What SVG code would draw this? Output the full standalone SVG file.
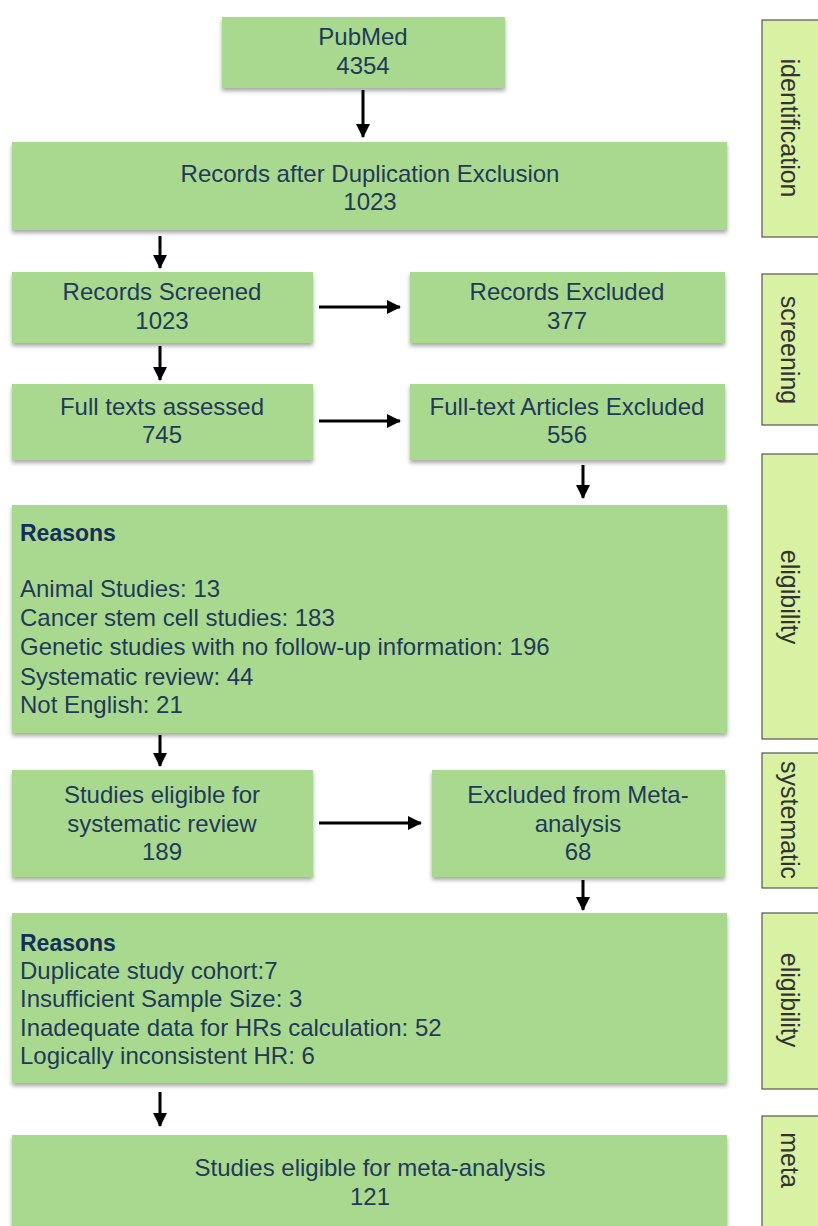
<svg xmlns="http://www.w3.org/2000/svg" width="818" height="1226" viewBox="0 0 818 1226">
<defs>
<filter id="sh" x="-5%" y="-10%" width="110%" height="130%">
<feDropShadow dx="0" dy="3" stdDeviation="2" flood-color="#000" flood-opacity="0.35"/>
</filter>
<marker id="ah" markerWidth="14" markerHeight="14" viewBox="0 0 14 14" refX="13" refY="7" orient="auto" markerUnits="userSpaceOnUse">
<path d="M0,0 L14,7 L0,14 Z" fill="#000"/>
</marker>
<style>
.box{fill:#a9d98f;filter:url(#sh);}
.side{fill:#d9f1a3;stroke:#555;stroke-width:1.2;}
.t{font-family:"Liberation Sans",Arial,sans-serif;font-size:24px;fill:#22395a;text-anchor:middle;}
.l{font-family:"Liberation Sans",Arial,sans-serif;font-size:24px;fill:#22395a;}
.b{font-family:"Liberation Sans",Arial,sans-serif;font-size:23px;font-weight:bold;fill:#14305a;}
.s{font-family:"Liberation Sans",Arial,sans-serif;font-size:25px;fill:#333;text-anchor:middle;dominant-baseline:central;}
.c{stroke:#000;stroke-width:3;fill:none;marker-end:url(#ah);}
</style>
</defs>
<rect width="818" height="1226" fill="#fff"/>

<g id="connectors">
<line class="c" x1="363" y1="90" x2="363" y2="137"/>
<line class="c" x1="160" y1="236" x2="160" y2="268"/>
<line class="c" x1="319" y1="307" x2="400" y2="307"/>
<line class="c" x1="160" y1="346" x2="160" y2="380"/>
<line class="c" x1="319" y1="421" x2="400" y2="421"/>
<line class="c" x1="583" y1="465" x2="583" y2="498"/>
<line class="c" x1="160" y1="735" x2="160" y2="766"/>
<line class="c" x1="319" y1="823" x2="421" y2="823"/>
<line class="c" x1="583" y1="880" x2="583" y2="910"/>
<line class="c" x1="160" y1="1092" x2="160" y2="1126"/>
</g>

<g id="n-pubmed">
<rect class="box" x="222" y="17" width="283" height="71"/>
<text class="t" x="363" y="45">PubMed</text>
<text class="t" x="363" y="74">4354</text>
</g>
<g id="n-dedup">
<rect class="box" x="12" y="142" width="715" height="88"/>
<text class="t" x="370" y="182">Records after Duplication Exclusion</text>
<text class="t" x="370" y="210">1023</text>
</g>
<g id="n-screened">
<rect class="box" x="12" y="272" width="301" height="71"/>
<text class="t" x="162" y="300">Records Screened</text>
<text class="t" x="162" y="329">1023</text>
</g>
<g id="n-excluded">
<rect class="box" x="410" y="272" width="315" height="71"/>
<text class="t" x="567" y="300">Records Excluded</text>
<text class="t" x="567" y="329">377</text>
</g>
<g id="n-fulltext">
<rect class="box" x="12" y="384" width="301" height="76"/>
<text class="t" x="162" y="415">Full texts assessed</text>
<text class="t" x="162" y="443">745</text>
</g>
<g id="n-ftexcluded">
<rect class="box" x="410" y="384" width="315" height="76"/>
<text class="t" x="567" y="415">Full-text Articles Excluded</text>
<text class="t" x="567" y="443">556</text>
</g>
<g id="n-reasons1">
<rect class="box" x="12" y="505" width="715" height="228"/>
<text class="b" x="20" y="541">Reasons</text>
<text class="l" x="20" y="597">Animal Studies: 13</text>
<text class="l" x="20" y="626">Cancer stem cell studies: 183</text>
<text class="l" x="20" y="655">Genetic studies with no follow-up information: 196</text>
<text class="l" x="20" y="685">Systematic review: 44</text>
<text class="l" x="20" y="713">Not English: 21</text>
</g>
<g id="n-sysreview">
<rect class="box" x="12" y="770" width="301" height="107"/>
<text class="t" x="162" y="803">Studies eligible for</text>
<text class="t" x="162" y="832">systematic review</text>
<text class="t" x="162" y="860">189</text>
</g>
<g id="n-exmeta">
<rect class="box" x="432" y="770" width="293" height="107"/>
<text class="t" x="578" y="803">Excluded from Meta-</text>
<text class="t" x="578" y="832">analysis</text>
<text class="t" x="578" y="860">68</text>
</g>
<g id="n-reasons2">
<rect class="box" x="12" y="913" width="715" height="170"/>
<text class="b" x="20" y="951">Reasons</text>
<text class="l" x="20" y="979">Duplicate study cohort:7</text>
<text class="l" x="20" y="1007">Insufficient Sample Size: 3</text>
<text class="l" x="20" y="1036">Inadequate data for HRs calculation: 52</text>
<text class="l" x="20" y="1064">Logically inconsistent HR: 6</text>
</g>
<g id="n-meta">
<rect class="box" x="12" y="1135" width="715" height="100"/>
<text class="t" x="370" y="1176">Studies eligible for meta-analysis</text>
<text class="t" x="370" y="1205">121</text>
</g>

<g id="side-identification">
<rect class="side" x="762" y="20" width="70" height="217"/>
<text class="s" transform="translate(790,128) rotate(90)">identification</text>
</g>
<g id="side-screening">
<rect class="side" x="762" y="274" width="70" height="151"/>
<text class="s" transform="translate(790,350) rotate(90)">screening</text>
</g>
<g id="side-eligibility1">
<rect class="side" x="762" y="454" width="70" height="285"/>
<text class="s" transform="translate(790,597) rotate(90)">eligibility</text>
</g>
<g id="side-systematic">
<rect class="side" x="762" y="753" width="70" height="135"/>
<text class="s" transform="translate(790,820) rotate(90)">systematic</text>
</g>
<g id="side-eligibility2">
<rect class="side" x="762" y="913" width="70" height="176"/>
<text class="s" transform="translate(790,1000) rotate(90)">eligibility</text>
</g>
<g id="side-meta">
<rect class="side" x="762" y="1116" width="70" height="130"/>
<text class="s" transform="translate(790,1160) rotate(90)">meta</text>
</g>
</svg>
